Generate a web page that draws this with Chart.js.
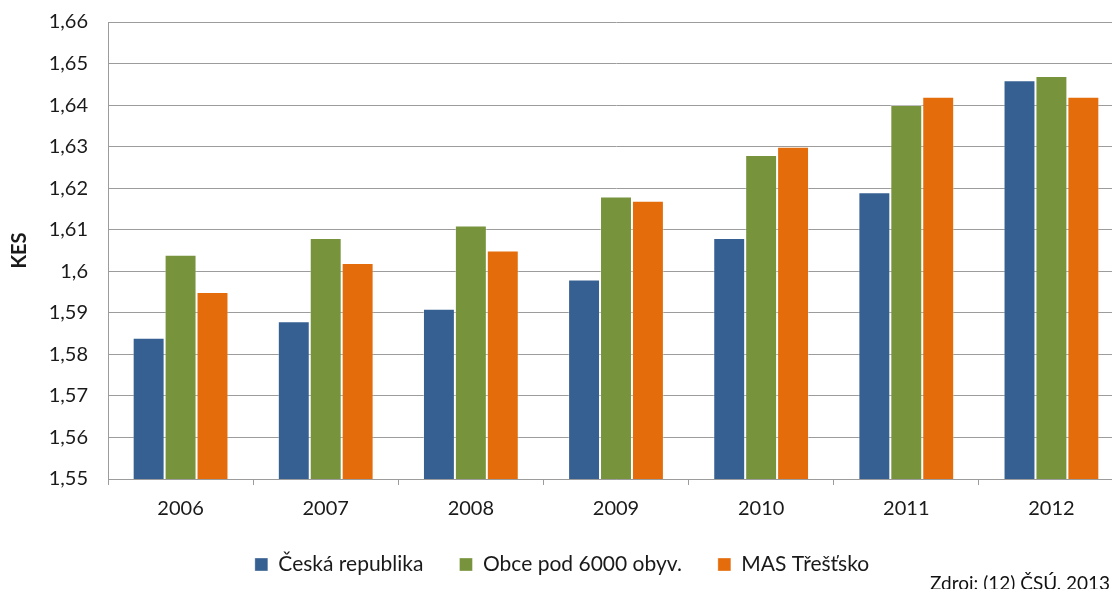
<!DOCTYPE html>
<html>
<head>
<meta charset="utf-8">
<script src="https://cdn.jsdelivr.net/npm/chart.js@4"></script>
<style>
  html, body { margin: 0; padding: 0; background: #fff; overflow: hidden; }
  #wrap { position: relative; width: 1124px; height: 589px; }
  #zdroj { position: absolute; left: 930px; top: 571px; font: 19px Lato, sans-serif; color: #111; white-space: nowrap; }
</style>
</head>
<body>
<div id="wrap">
  <canvas id="myChart"></canvas>
  <div id="zdroj">Zdroj: (12) ČSÚ, 2013</div>
</div>
<script>
// data
var roky = ['2006', '2007', '2008', '2009', '2010', '2011', '2012'];
var nazvy = ['Česká republika', 'Obce pod 6000 obyv.', 'MAS Třešťsko'];
var ceskaRepublika = [1.584, 1.588, 1.591, 1.598, 1.608, 1.619, 1.646];
var obcePod6000 = [1.604, 1.608, 1.611, 1.618, 1.628, 1.640, 1.647];
var masTrestsko = [1.595, 1.602, 1.605, 1.617, 1.630, 1.642, 1.642];
var yMin = 1.55, yMax = 1.66, yKrok = 0.01;

var barvy = ['#376092', '#77933C', '#E46C0A'];
var font = 'Lato';
var textColor = '#1a1a1a';

var ctx = document.getElementById('myChart');
new Chart(ctx, {
  type: 'bar',
  data: {
    labels: roky,
    datasets: [
      { label: nazvy[0], data: ceskaRepublika, backgroundColor: barvy[0], borderColor: 'rgba(255,255,255,0.35)', borderWidth: 1 },
      { label: nazvy[1], data: obcePod6000, backgroundColor: barvy[1], borderColor: 'rgba(255,255,255,0.35)', borderWidth: 1 },
      { label: nazvy[2], data: masTrestsko, backgroundColor: barvy[2], borderColor: 'rgba(255,255,255,0.35)', borderWidth: 1 }
    ]
  },
  options: {
    responsive: true,
    maintainAspectRatio: false,
    animation: false,
    layout: { padding: { top: 22, left: 0, right: 0, bottom: 4 } },
    datasets: { bar: { categoryPercentage: 0.66, barPercentage: 1 } },
    plugins: {
      tooltip: { enabled: false },
      legend: {
        position: 'bottom',
        labels: {
          boxWidth: 13,
          boxHeight: 13,
          padding: 36,
          color: textColor,
          font: { family: font, size: 21 }
        }
      }
    },
    scales: {
      x: {
        grid: { offset: true, drawOnChartArea: false, drawTicks: true, tickLength: 6, color: '#9c9c9c' },
        border: { color: '#9c9c9c' },
        ticks: { color: textColor, padding: 12, font: { family: font, size: 20 } },
        afterFit: function (scale) { scale.height = 39; }
      },
      y: {
        min: yMin,
        max: yMax,
        // invisible tick marks keep the labels away from the axis
        grid: { drawTicks: true, tickLength: 18, tickColor: 'rgba(0,0,0,0)', color: '#9c9c9c' },
        border: { color: '#9c9c9c' },
        ticks: {
          stepSize: yKrok,
          padding: 2,
          color: textColor,
          font: { family: font, size: 20 },
          callback: function (v) {
            return String(Math.round(v * 100) / 100).replace('.', ',');
          }
        },
        title: {
          display: true,
          text: 'KES',
          color: textColor,
          padding: { top: 8, bottom: 0 },
          font: { family: font, size: 20, weight: 'bold' }
        },
        afterFit: function (scale) { scale.width = 108; }
      }
    }
  }
});
</script>
</body>
</html>
